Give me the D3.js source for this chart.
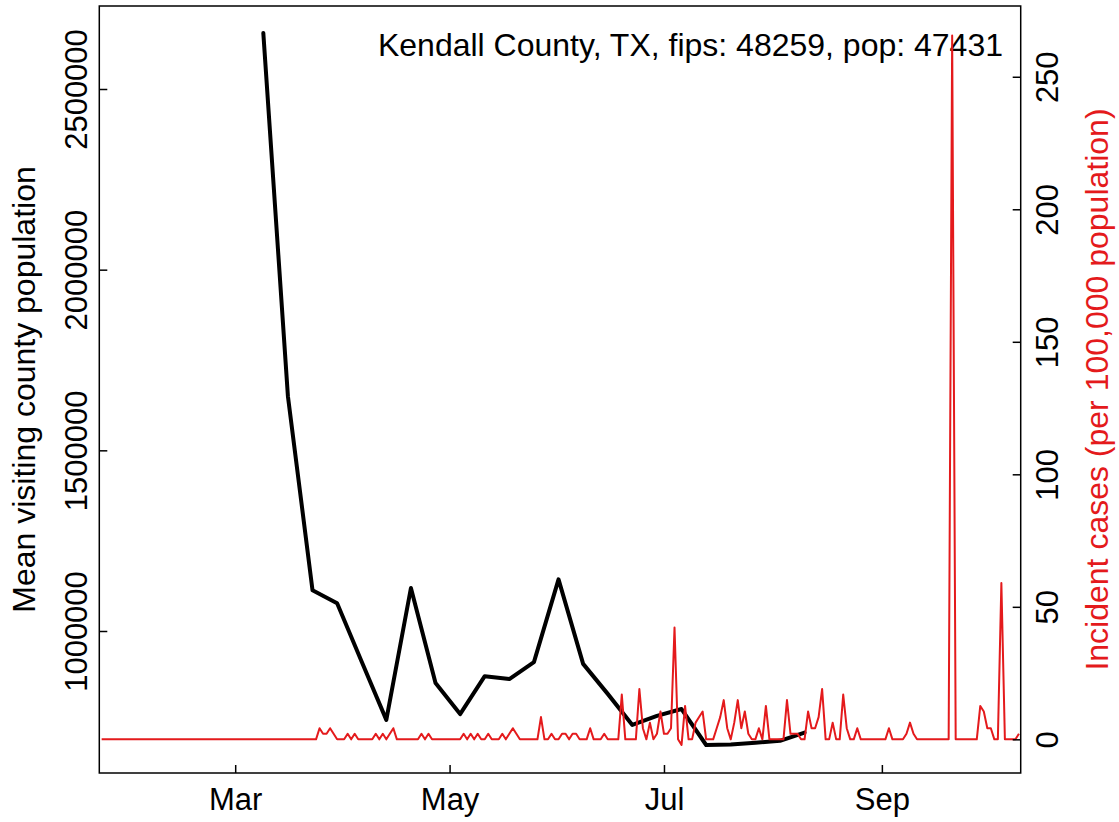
<!DOCTYPE html>
<html>
<head>
<meta charset="utf-8">
<script src="https://cdn.jsdelivr.net/npm/d3@7"></script>
<style>
  html, body { margin: 0; padding: 0; background: #fff; }
  svg { display: block; font-family: "Liberation Sans", Arial, Helvetica, sans-serif; }
</style>
</head>
<body>
<svg id="chart" width="1119" height="822"></svg>
<script>
// ---------------- DATA ----------------
// Weekly mean visiting county population (black line)
const visitDates = ["2020-03-09","2020-03-16","2020-03-23","2020-03-30","2020-04-06","2020-04-13",
  "2020-04-20","2020-04-27","2020-05-04","2020-05-11","2020-05-18","2020-05-25","2020-06-01",
  "2020-06-08","2020-06-15","2020-06-22","2020-06-29","2020-07-06","2020-07-13","2020-07-20",
  "2020-07-27","2020-08-03","2020-08-10"];
const visitValues = [2655000, 1650000, 1113000, 1077000, 915000, 754000,
  1119000, 856000, 770000, 875000, 867000, 914000, 1143000,
  909000, 826000, 740000, 765000, 784000, 684500, 686000,
  691000, 696000, 719000];

// Daily incident cases per 100,000 population (red line), starting 2020-01-23
const caseStart = "2020-01-23";
const casesJan = [0,0,0,0,0,0,0,0,0];
const casesFeb = [0,0,0,0,0,0,0,0,0,0, 0,0,0,0,0,0,0,0,0,0, 0,0,0,0,0,0,0,0,0];
const casesMar = [0,0,0,0,0,0,0,0,0,0, 0,0,0,0,0,0,0,0,0,0, 0,0,0,0,4.2,2.1,2.1,4.2,2.1,0, 0];
const casesApr = [0,2.1,0,2.1,0,0,0,0,0,2.1, 0,2.1,0,2.1,4.2,0,0,0,0,0, 0,0,2.1,0,2.1,0,0,0,0,0];
const casesMay = [0,0,0,0,2.1,0,2.1,0,2.1,0, 0,2.1,0,0,0,2.1,0,2.1,4.2,2.1, 0,0,0,0,0,0,8.4,0,0,2.1, 0];
const casesJun = [0,2.1,2.1,0,2.1,2.1,0,0,0,4.2, 0,0,0,2.1,0,0,0,0,16.9,0, 0,0,0,19.0,4.2,0,6.3,0,2.1,10.5];
const casesJul = [2.1,2.1,4.2,42.2,0,-2.1,12.6,0,0,6.3, 8.4,10.5,0,0,0,4.2,8.4,14.8,4.2,0, 6.3,14.8,4.2,10.5,2.1,0,0,4.2,0,12.6, 0];
const casesAug = [0,0,0,0,14.8,2.1,2.1,2.1,0,0, 10.5,4.2,4.2,8.4,19.0,0,0,6.3,0,0, 16.9,4.2,0,0,4.2,0,0,0,0,0, 0];
const casesSep = [0,0,4.2,0,0,0,0,2.1,6.3,2.1, 0,0,0,0,0,0,0,0,0,0, 265.6,0,0,0,0,0,0,0,12.6,10.5];
const casesOct = [4.2,4.2,0,0,59.0,0,0,0,0,2.1];

// Axis ticks
const xTickDates = ["2020-03-01","2020-05-01","2020-07-01","2020-09-01"];
const xTickLabels = ["Mar","May","Jul","Sep"];
const leftTicks = [1000000, 1500000, 2000000, 2500000];
const rightTicks = [0, 50, 100, 150, 200, 250];

const annotation = "Kendall County, TX, fips: 48259, pop: 47431";
const leftTitle = "Mean visiting county population";
const rightTitle = "Incident cases (per 100,000 population)";

// ---------------- LAYOUT ----------------
const L = 99.3, R = 1020.7, T = 6, B = 773;
const FS = 31, FT = 32;
const RED = "#e41a1c";

const parse = d3.utcParse("%Y-%m-%d");
const allCases = [].concat(casesJan, casesFeb, casesMar, casesApr, casesMay, casesJun, casesJul, casesAug, casesSep, casesOct);
const start = parse(caseStart);
const caseData = allCases.map((v, i) => ({ date: d3.utcDay.offset(start, i), value: v }));
const visitData = visitDates.map((d, i) => ({ date: parse(d), value: visitValues[i] }));

const x = d3.scaleUtc()
  .domain([new Date(Date.UTC(2020, 0, 22, 8)), new Date(Date.UTC(2020, 9, 10, 12))])
  .range([L, R]);
const yL = d3.scaleLinear().domain([607000, 2729700]).range([B, T]);
const yR = d3.scaleLinear().domain([-12.7, 276.7]).range([B, T]);

const svg = d3.select("#chart");

svg.append("defs").append("clipPath").attr("id", "plotclip")
  .append("rect").attr("x", L).attr("y", T).attr("width", R - L).attr("height", B - T);

// black line
svg.append("path")
  .datum(visitData)
  .attr("fill", "none")
  .attr("stroke", "#000")
  .attr("stroke-width", 4)
  .attr("stroke-linejoin", "round")
  .attr("stroke-linecap", "round")
  .attr("clip-path", "url(#plotclip)")
  .attr("d", d3.line().x(d => x(d.date)).y(d => yL(d.value)));

// annotation
svg.append("text")
  .attr("x", 1003).attr("y", 56)
  .attr("text-anchor", "end")
  .attr("font-size", FT)
  .attr("fill", "#000")
  .text(annotation);

// red line
svg.append("path")
  .datum(caseData)
  .attr("fill", "none")
  .attr("stroke", RED)
  .attr("stroke-width", 2)
  .attr("stroke-linejoin", "round")
  .attr("clip-path", "url(#plotclip)")
  .attr("d", d3.line().x(d => x(d.date)).y(d => yR(d.value)));

// box
svg.append("rect")
  .attr("x", L).attr("y", T).attr("width", R - L).attr("height", B - T)
  .attr("fill", "none").attr("stroke", "#000").attr("stroke-width", 1.5);

// bottom axis (inward ticks)
const xAxis = d3.axisBottom(x)
  .tickValues(xTickDates.map(parse))
  .tickFormat((d, i) => xTickLabels[i])
  .tickSizeInner(-8).tickSizeOuter(0).tickPadding(0);
const gx = svg.append("g").attr("transform", `translate(0,${B})`).call(xAxis);
gx.select(".domain").remove();
gx.selectAll(".tick line").attr("stroke", "#000").attr("stroke-width", 1.5);
gx.selectAll(".tick text").attr("font-size", FS).attr("font-family", "Liberation Sans, Arial, sans-serif")
  .attr("fill", "#000").attr("dy", null).attr("y", 37);

// left axis
const yAxisL = d3.axisLeft(yL).tickValues(leftTicks).tickFormat(d3.format("d"))
  .tickSizeInner(-8).tickSizeOuter(0);
const gl = svg.append("g").attr("transform", `translate(${L},0)`).call(yAxisL);
gl.select(".domain").remove();
gl.selectAll(".tick line").attr("stroke", "#000").attr("stroke-width", 1.5);
gl.selectAll(".tick text")
  .attr("font-size", FS).attr("font-family", "Liberation Sans, Arial, sans-serif").attr("fill", "#000")
  .attr("x", null).attr("dy", null)
  .attr("text-anchor", "middle")
  .attr("transform", "translate(-12,0) rotate(-90)");

// right axis
const yAxisR = d3.axisRight(yR).tickValues(rightTicks).tickFormat(d3.format("d"))
  .tickSizeInner(-8).tickSizeOuter(0);
const gr = svg.append("g").attr("transform", `translate(${R},0)`).call(yAxisR);
gr.select(".domain").remove();
gr.selectAll(".tick line").attr("stroke", "#000").attr("stroke-width", 1.5);
gr.selectAll(".tick text")
  .attr("font-size", FS).attr("font-family", "Liberation Sans, Arial, sans-serif").attr("fill", "#000")
  .attr("x", null).attr("dy", null)
  .attr("text-anchor", "middle")
  .attr("transform", "translate(37,0) rotate(-90)");

// axis titles
const midY = (T + B) / 2;
svg.append("text")
  .attr("transform", `translate(35,${midY}) rotate(-90)`)
  .attr("text-anchor", "middle").attr("font-size", FT).attr("fill", "#000")
  .text(leftTitle);
svg.append("text")
  .attr("transform", `translate(1108,${midY}) rotate(-90)`)
  .attr("text-anchor", "middle").attr("font-size", FT).attr("fill", RED)
  .text(rightTitle);
</script>
</body>
</html>
